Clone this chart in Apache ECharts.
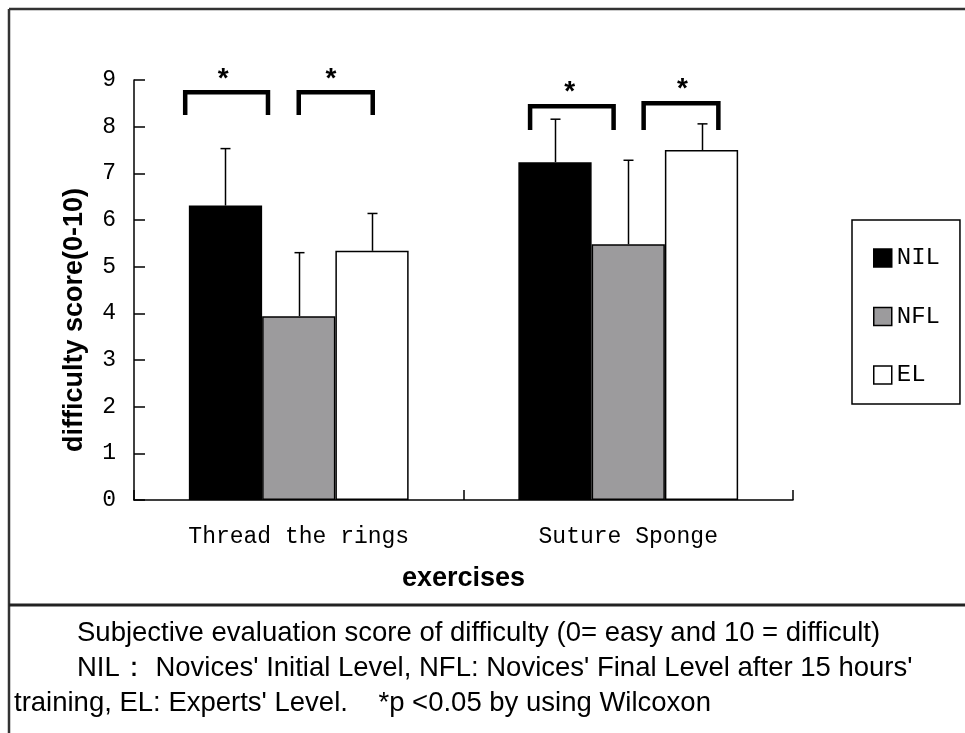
<!DOCTYPE html>
<html><head><meta charset="utf-8">
<script src="https://cdn.jsdelivr.net/npm/echarts@6/dist/echarts.min.js"></script>
<style>html,body{margin:0;padding:0;background:#fff}#c{width:965px;height:733px}</style>
</head><body><div id="c"></div>
<script>
// ---- data ----
const categories = ['Thread the rings', 'Suture Sponge'];
const seriesNames = ['NIL', 'NFL', 'EL'];
const nilMean = [6.31, 7.24];
const nflMean = [3.94, 5.48];
const elMean = [5.34, 7.50];
const nilErr = [1.22, 0.92];
const nflErr = [1.36, 1.80];
const elErr = [0.80, 0.56];
const yMin = 0, yMax = 9, yStep = 1;
const xName = 'exercises';
const yName = 'difficulty score(0-10)';
// significance brackets: [category, from (bar units), to (bar units), top value, leg bottom value, star pos (bar units), star value]
const sigBrackets = [
  [0, -1.55, -0.42, 8.74, 8.25, -1.03, 9.15],
  [0, 0.00, 1.01, 8.74, 8.25, 0.44, 9.15],
  [1, -1.34, -0.20, 8.44, 7.93, -0.80, 8.87],
  [1, 0.21, 1.23, 8.50, 7.93, 0.74, 8.94]
];
const captionLines = [
  'Subjective evaluation score of difficulty (0= easy and 10 = difficult)',
  'NIL\uFF1A Novices\' Initial Level, NFL: Novices\' Final Level after 15 hours\'',
  'training, EL: Experts\' Level.    *p <0.05 by using Wilcoxon'
];

const means = [nilMean, nflMean, elMean];
const errs = [nilErr, nflErr, elErr];
const colors = ['#000000', '#9c9b9d', '#ffffff'];
const GAP = 0.333;

const chart = echarts.init(document.getElementById('c'), null, {renderer: 'canvas'});

const barSeries = seriesNames.map((n, k) => ({
  name: n, type: 'bar', data: means[k],
  barGap: '0%', barCategoryGap: '33.3%',
  itemStyle: {color: colors[k], borderColor: '#000', borderWidth: 1.5},
  z: 2
}));

const errSeries = seriesNames.map((n, k) => ({
  type: 'custom',
  data: categories.map((c, i) => [i, means[k][i], means[k][i] + errs[k][i]]),
  encode: {x: 0, y: [1, 2]},
  z: 3, silent: true,
  renderItem: function (params, api) {
    const p0 = api.coord([api.value(0), api.value(1)]);
    const p1 = api.coord([api.value(0), api.value(2)]);
    const bw = api.size([1, 0])[0] * (1 - GAP) / 3;
    const x = Math.round(p0[0] + (k - 1) * bw) + 0.5;
    const st = {stroke: '#000', lineWidth: 1.5};
    return {type: 'group', children: [
      {type: 'line', shape: {x1: x, y1: p0[1], x2: x, y2: p1[1]}, style: st},
      {type: 'line', shape: {x1: x - 5, y1: p1[1], x2: x + 5, y2: p1[1]}, style: st}
    ]};
  }
}));

const bracketSeries = {
  type: 'custom',
  data: sigBrackets,
  encode: {x: 0, y: 3},
  z: 4, silent: true, clip: false,
  renderItem: function (params, api) {
    const c = api.value(0);
    const bw = api.size([1, 0])[0] * (1 - GAP) / 3;
    const top = api.coord([c, api.value(3)]);
    const bot = api.coord([c, api.value(4)]);
    const star = api.coord([c, api.value(6)]);
    const x1 = top[0] + api.value(1) * bw;
    const x2 = top[0] + api.value(2) * bw;
    const xs = top[0] + api.value(5) * bw;
    return {type: 'group', children: [
      {type: 'polyline', shape: {points: [[x1, bot[1]], [x1, top[1]], [x2, top[1]], [x2, bot[1]]]},
        style: {stroke: '#000', lineWidth: 4.5, fill: null, lineJoin: 'miter', lineCap: 'butt'}},
      {type: 'text', x: xs, y: star[1] + 6,
        style: {text: '*', fill: '#000', font: 'bold 28px "Liberation Sans", Arial, sans-serif',
          align: 'center', verticalAlign: 'middle'}}
    ]};
  }
};

const capFont = '27.5px "Liberation Sans", Arial, sans-serif';

chart.setOption({
  animation: false,
  backgroundColor: '#fff',
  grid: {left: 134, right: 172, top: 80, bottom: 233, containLabel: false},
  legend: {
    data: seriesNames, orient: 'vertical', left: 852, top: 220,
    padding: [26, 20, 17, 21], itemGap: 34.5, itemWidth: 18, itemHeight: 18, itemTextGap: 3,
    borderColor: '#000', borderWidth: 1.5, icon: 'rect',
    itemStyle: {borderColor: '#000', borderWidth: 1.5},
    textStyle: {fontFamily: '"Liberation Mono", monospace', fontSize: 24, color: '#000'}
  },
  xAxis: {
    type: 'category', data: categories,
    axisLine: {lineStyle: {color: '#000', width: 1.5}},
    axisTick: {show: true, inside: true, length: 10, alignWithLabel: false, lineStyle: {color: '#000', width: 1.5}},
    axisLabel: {fontFamily: '"Liberation Mono", monospace', fontSize: 23, color: '#000', margin: 25},
    name: xName, nameLocation: 'middle', nameGap: 65,
    nameTextStyle: {fontFamily: '"Liberation Sans", Arial, sans-serif', fontWeight: 'bold', fontSize: 27, color: '#000'}
  },
  yAxis: {
    type: 'value', min: yMin, max: yMax, interval: yStep,
    axisLine: {show: true, lineStyle: {color: '#000', width: 1.5}},
    axisTick: {show: true, inside: true, length: 11, lineStyle: {color: '#000', width: 1.5}},
    axisLabel: {fontFamily: '"Liberation Mono", monospace', fontSize: 23, color: '#000', margin: 18},
    splitLine: {show: false}
  },
  graphic: [
    {type: 'line', shape: {x1: 9, y1: 9, x2: 965, y2: 9}, style: {stroke: '#333', lineWidth: 2.5}},
    {type: 'line', shape: {x1: 9, y1: 9, x2: 9, y2: 733}, style: {stroke: '#333', lineWidth: 2.5}},
    {type: 'line', shape: {x1: 9, y1: 605, x2: 965, y2: 605}, style: {stroke: '#222', lineWidth: 3}},
    {type: 'text', x: 75, y: 320, rotation: Math.PI / 2,
      style: {text: yName, font: 'bold 27px "Liberation Sans", Arial, sans-serif', fill: '#000', align: 'center', verticalAlign: 'middle'}},
    {type: 'text', x: 77, y: 633, style: {text: captionLines[0], font: capFont, fill: '#000', align: 'left', verticalAlign: 'middle'}},
    {type: 'text', x: 77, y: 668, style: {text: captionLines[1], font: capFont, fill: '#000', align: 'left', verticalAlign: 'middle'}},
    {type: 'text', x: 14, y: 703, style: {text: captionLines[2], font: capFont, fill: '#000', align: 'left', verticalAlign: 'middle'}}
  ],
  series: [...barSeries, ...errSeries, bracketSeries]
});
</script>
</body></html>
